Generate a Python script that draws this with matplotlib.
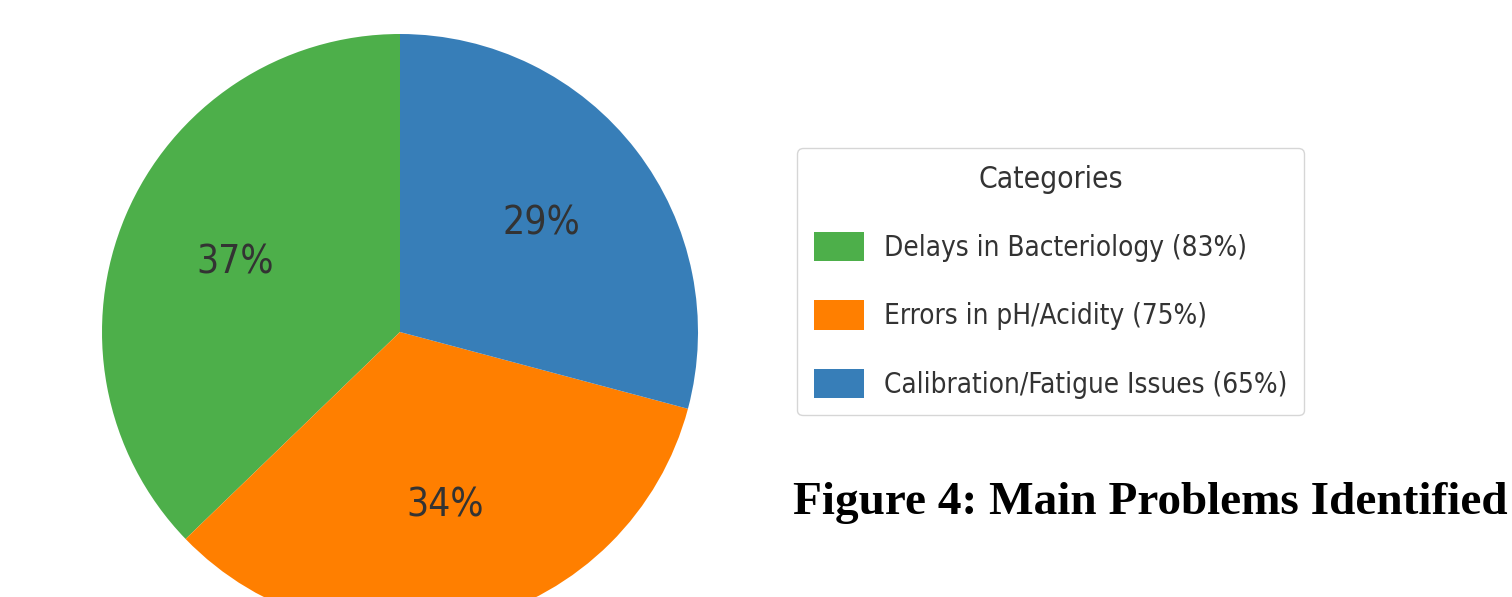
import matplotlib
matplotlib.use('Agg')
from matplotlib import pyplot as plt

# datos
categorias = ['Delays in Bacteriology (83%)', 'Errors in pH/Acidity (75%)',
              'Calibration/Fatigue Issues (65%)']
valores = [83, 75, 65]
colores = ['#4daf4a', '#ff7f00', '#377eb8']
titulo = 'Figure 4: Main Problems Identified'

W, H = 1512, 597
fig = plt.figure(figsize=(W / 100, H / 100), dpi=100)

# pie: centro (400, 332) radio 298 px
cx, cy, r = 400, 332, 298
ax = fig.add_axes([(cx - r) / W, (H - cy - r) / H, 2 * r / W, 2 * r / H])
wedges, textos, autotextos = ax.pie(valores, colors=colores, startangle=90,
                                    autopct='%1.0f%%', pctdistance=0.6,
                                    textprops={'fontsize': 28, 'color': '#333333',
                                               'fontstretch': 'condensed'})
ax.set_xlim(-1, 1)
ax.set_ylim(-1, 1)
ax.set_aspect('equal')
ax.axis('off')

#leyenda a la derecha
leg = fig.legend(wedges, categorias, title='Categories',
                 loc='upper left', bbox_to_anchor=(797 / W, 1 - 148 / H),
                 borderaxespad=0,
                 prop={'size': 20, 'stretch': 'condensed'},
                 title_fontproperties={'size': 21.5, 'stretch': 'condensed'},
                 handlelength=1.8, handleheight=1.25, labelspacing=1.38,
                 borderpad=0.6, handletextpad=0.72, frameon=True)
leg.get_frame().set_edgecolor('#cccccc')
leg.get_title().set_color('#333333')
for t in leg.get_texts():
    t.set_color('#333333')

fig.text(793 / W, 1 - 514 / H, titulo, fontsize=34, fontweight='bold',
         family='Liberation Serif', ha='left', va='baseline')

fig.savefig('out.png', dpi=100)
